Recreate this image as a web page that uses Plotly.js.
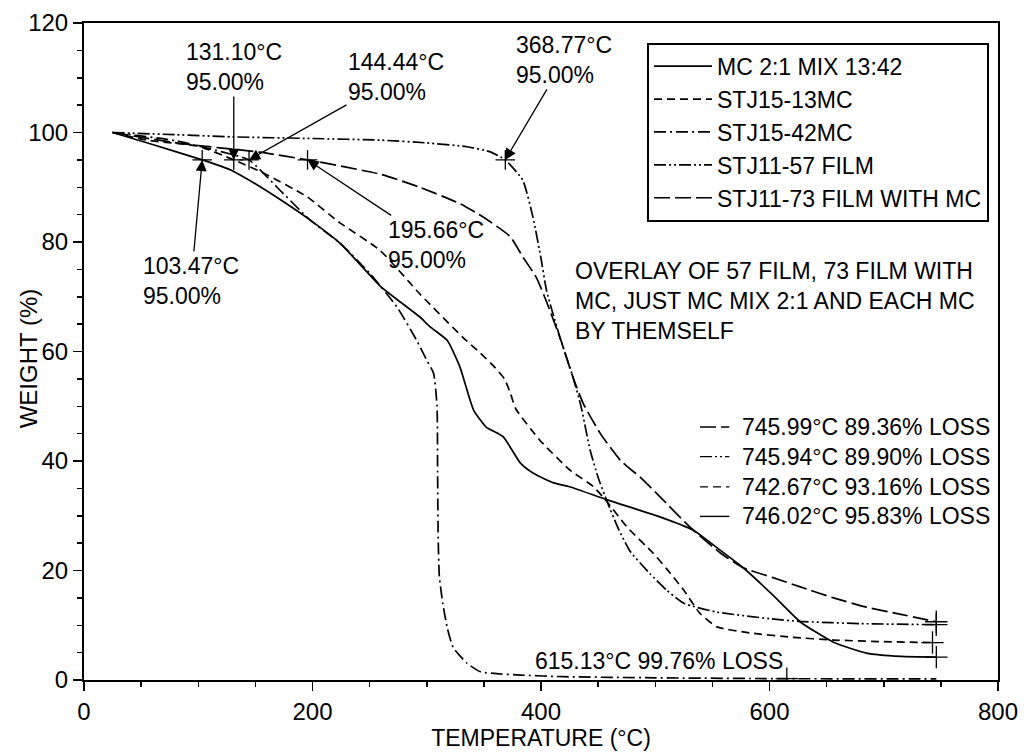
<!DOCTYPE html>
<html>
<head>
<meta charset="utf-8">
<script src="https://cdn.plot.ly/plotly-3.0.1.min.js"></script>
<style>
html,body{margin:0;padding:0;background:#fff;}
#chart{width:1034px;height:755px;}
</style>
</head>
<body>
<div id="chart"></div>
<script>
// ---- data ----
const seriesNames = ["MC 2:1 MIX 13:42", "STJ15-13MC", "STJ15-42MC", "STJ11-57 FILM", "STJ11-73 FILM WITH MC"];

const tempMix = [25, 60, 103.47, 128, 151, 175, 198, 224, 259, 274, 294, 303, 318, 329, 341, 352, 367, 382, 393, 411, 425, 458, 504, 533, 555, 577, 603, 627, 656, 685, 715, 746.02];
const wtMix   = [100, 97.8, 95, 93.2, 90.5, 87.3, 84, 79.8, 72, 69.5, 66.3, 64.5, 62, 57.2, 49.3, 46.2, 44.4, 39.6, 37.8, 36, 35.3, 32.9, 29.8, 27.4, 24, 20.5, 15.5, 10.6, 6.9, 4.9, 4.3, 4.17];

const temp13 = [25, 55, 100, 131.1, 157, 195, 224, 259, 294, 332, 347, 360, 368, 373, 378, 399, 425, 446, 458, 475, 498, 510, 525, 539, 554, 583, 620, 656, 700, 742.67];
const wt13   = [100, 98.6, 97.5, 95, 92.6, 88.3, 83.5, 78.5, 70.5, 62.5, 59.7, 57, 55, 52.5, 49.5, 43.8, 38.4, 35.3, 32.5, 28, 23.2, 20.3, 16.4, 12.2, 9.7, 8.6, 7.8, 7.3, 7.0, 6.84];

const temp42 = [25, 80, 120, 144.44, 169, 198, 224, 250, 274, 291, 300, 306, 309, 309.5, 310, 311, 314, 318, 323, 335, 347, 365, 382, 420, 500, 615.13, 746];
const wt42   = [100, 98.5, 96.5, 95, 90, 84, 79.8, 74.3, 68.1, 62.1, 58.4, 56, 50, 38, 26, 19, 14, 9.5, 6, 3.1, 1.5, 1.1, 0.9, 0.6, 0.4, 0.24, 0.2];

const temp57 = [25, 80, 130, 200, 260, 300, 335, 355, 368.77, 384, 393, 400, 405, 417, 428, 435, 443, 450, 458, 468, 478, 495, 510, 525, 554, 600, 627, 680, 745.94];
const wt57   = [100, 99.6, 99.2, 98.9, 98.6, 98.1, 97.4, 96.5, 95, 91.3, 84.5, 77, 71, 62.3, 55.3, 50, 42, 37, 32.5, 27.5, 23.5, 19.5, 16.4, 14, 12.4, 11.2, 10.7, 10.3, 10.1];

const temp73 = [25, 84, 154, 195.66, 259, 294, 329, 349, 373, 384, 396, 405, 417, 428, 437, 452, 470, 487, 504, 530, 557, 577, 603, 627, 656, 685, 715, 745.99];
const wt73   = [100, 98, 96.4, 95, 92.4, 90, 87, 84.6, 81, 77.3, 73.5, 69, 62.3, 55.3, 50.5, 45, 40, 37, 33.5, 28, 23.2, 20.5, 18.7, 17, 15, 13.3, 12, 10.64];

// 95.00% onset points (temperature labels)
const onsetTemps = [131.10, 144.44, 368.77, 103.47, 195.66];
const onsetWeight = 95.00;

// end points (temperature, % loss)
const endTemps = [745.99, 745.94, 742.67, 746.02];
const endLoss  = [89.36, 89.90, 93.16, 95.83];
const residTemp = 615.13;
const residLoss = 99.76;

const xTicks = [0, 200, 400, 600, 800];
const yTicks = [0, 20, 40, 60, 80, 100, 120];

// ---- styles ----
const FONT = '"Liberation Sans", Arial, sans-serif';
const dashes = ['solid', '8px,5px', '12px,4px,2px,4px', '12px,3px,2px,3px,2px,3px', '16px,5px'];
const lineW = 1.7;

const curves = [[tempMix, wtMix], [temp13, wt13], [temp42, wt42], [temp57, wt57], [temp73, wt73]];
const traces = curves.map((c, i) => ({
  x: c[0], y: c[1], type: 'scatter', mode: 'lines', name: seriesNames[i],
  line: {color: '#000', width: lineW, dash: dashes[i], shape: 'spline', smoothing: 0.5},
  hoverinfo: 'skip'
}));

// cross markers at onset and end points
traces.push({
  x: onsetTemps, y: onsetTemps.map(() => onsetWeight),
  type: 'scatter', mode: 'markers', showlegend: false,
  marker: {symbol: 'cross-thin-open', size: 14, color: '#000', line: {color: '#000', width: 1.3}}
});
traces.push({
  x: endTemps.concat([residTemp]), y: endLoss.map(l => 100 - l).concat([100 - residLoss]),
  type: 'scatter', mode: 'markers', showlegend: false,
  marker: {symbol: 'cross-thin-open', size: 16, color: '#000', line: {color: '#000', width: 1.3}}
});

// onset annotations (arrow offsets in px)
const onsetOffsets = [[0, -93], [147, -83], [59, -100], [-11, 121], [128, 85]];
const annotations = onsetTemps.map((t, i) => ({
  x: t, y: onsetWeight, xref: 'x', yref: 'y',
  text: t.toFixed(2) + '°C<br>' + onsetWeight.toFixed(2) + '%',
  showarrow: true, arrowhead: 2, arrowsize: 1.7, arrowwidth: 1.3, arrowcolor: '#000',
  ax: onsetOffsets[i][0], ay: onsetOffsets[i][1], align: 'left',
  font: {family: FONT, size: 23, color: '#000'}
}));

// overlay note
annotations.push({
  xref: 'paper', yref: 'paper', x: 0.535, y: 0.645, xanchor: 'left', yanchor: 'top',
  text: 'OVERLAY OF 57 FILM, 73 FILM WITH<br>MC, JUST MC MIX 2:1 AND EACH MC<br>BY THEMSELF',
  showarrow: false, align: 'left', font: {family: FONT, size: 23, color: '#000'}
});

// end labels
const endRowY = [0.385, 0.340, 0.294, 0.249];
const endDash = [dashes[4], dashes[3], dashes[1], dashes[0]];
const shapes = [];
endTemps.forEach((t, i) => {
  annotations.push({
    xref: 'paper', yref: 'paper', x: 0.993, y: endRowY[i], xanchor: 'right', yanchor: 'middle',
    text: t.toFixed(2) + '°C ' + endLoss[i].toFixed(2) + '% LOSS',
    showarrow: false, font: {family: FONT, size: 23, color: '#000'}
  });
  shapes.push({
    type: 'line', xref: 'paper', yref: 'paper', x0: 0.674, x1: 0.706, y0: endRowY[i], y1: endRowY[i],
    line: {color: '#000', width: 1.4, dash: endDash[i]}
  });
});
annotations.push({
  xref: 'paper', yref: 'paper', x: 0.491, y: 0.006, xanchor: 'left', yanchor: 'bottom',
  text: residTemp.toFixed(2) + '°C ' + residLoss.toFixed(2) + '% LOSS',
  showarrow: false, font: {family: FONT, size: 23, color: '#000'}
});

// y-axis title (placed as rotated text to match the reference position)
annotations.push({
  xref: 'paper', yref: 'paper', x: -0.061, y: 0.49, xanchor: 'center', yanchor: 'middle',
  text: 'WEIGHT (%)', textangle: -90, showarrow: false,
  font: {family: FONT, size: 24, color: '#000'}
});

const axisCommon = {
  showgrid: false, zeroline: false, showline: true, mirror: true,
  linecolor: '#000', linewidth: 2, ticks: 'outside', ticklen: 9, tickwidth: 1.5, tickcolor: '#000',
  tickfont: {family: FONT, size: 24, color: '#000'}
};

const layout = {
  width: 1034, height: 755,
  margin: {l: 84, r: 36, t: 23, b: 75},
  paper_bgcolor: '#fff', plot_bgcolor: '#fff',
  showlegend: true,
  legend: {
    x: 0.616, y: 0.97, xanchor: 'left', yanchor: 'top',
    bordercolor: '#000', borderwidth: 2, bgcolor: '#fff', itemwidth: 58,
    font: {family: FONT, size: 23, color: '#000'}, tracegroupgap: 0
  },
  xaxis: Object.assign({}, axisCommon, {
    range: [0, 800], tickvals: xTicks, ticktext: xTicks.map(String),
    minor: {dtick: 50, ticklen: 5, tickcolor: '#000', ticks: 'outside'},
    title: {text: 'TEMPERATURE (°C)', font: {family: FONT, size: 23, color: '#000'}, standoff: 4}
  }),
  yaxis: Object.assign({}, axisCommon, {
    range: [0, 120], tickvals: yTicks, ticktext: yTicks.map(String),
    minor: {dtick: 5, ticklen: 5, tickcolor: '#000', ticks: 'outside'}
  }),
  annotations: annotations,
  shapes: shapes
};

Plotly.newPlot('chart', traces, layout, {staticPlot: true, displayModeBar: false});
</script>
</body>
</html>
